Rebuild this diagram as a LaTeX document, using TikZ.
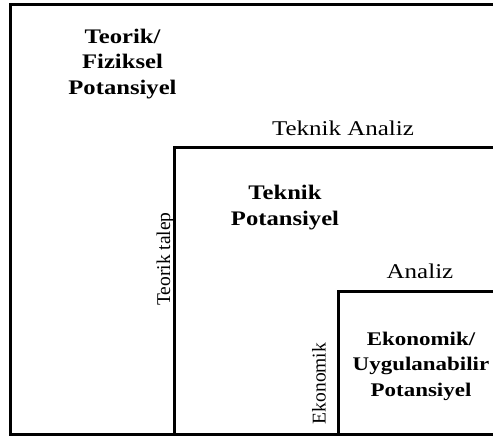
\documentclass[tikz,border=0pt]{standalone}
\usepackage{fontspec}
\usepackage{graphicx}
\setmainfont{Liberation Serif}[FakeStretch=1.19]
\newfontfamily\rotserif{Liberation Serif}
\begin{document}
\begin{tikzpicture}[x=1pt,y=-1pt,
  outerline/.style={line width=3pt},
  boxline/.style={line width=2.6pt},
  boldlbl/.style={font=\fontsize{20.7}{25.8}\selectfont\bfseries, inner sep=0pt, align=center},
  smallbold/.style={font=\fontsize{19.3}{25.5}\selectfont\bfseries, inner sep=0pt, align=center},
  plainlbl/.style={font=\fontsize{21}{24}\selectfont, inner sep=0pt, anchor=base},
  rotlbl/.style={font=\rotserif\fontsize{19.5}{23}\selectfont, inner sep=0pt, rotate=90, anchor=base}]
\useasboundingbox (0,0) rectangle (493,437);
\clip (0,0) rectangle (493,437);
% frames
\draw[outerline] (520,4.5) -- (10.8,4.5) -- (10.8,434) -- (520,434);
\draw[boxline] (520,147.5) -- (174.7,147.5) -- (174.7,434);
\draw[boxline] (520,291.5) -- (338.5,291.5) -- (338.5,434);
% labels
\node[boldlbl] (teorik) at (122.5,63.9) {Teorik/\\Fiziksel\\Potansiyel};
\node[plainlbl] (teknikanaliz) at (343,135) {Teknik Analiz};
\node[boldlbl] (teknik) at (285,207.5) {Teknik\\Potansiyel};
\node[rotlbl] (talep) at (170,259) {Teorik talep};
\node[plainlbl] (analiz) at (420,278) {Analiz};
\node[rotlbl] (ekonomiklbl) at (325.5,383.5) {Ekonomik};
\node[smallbold] (ekonomik) at (421,366) {Ekonomik/\\Uygulanabilir\\Potansiyel};
\end{tikzpicture}
\end{document}
